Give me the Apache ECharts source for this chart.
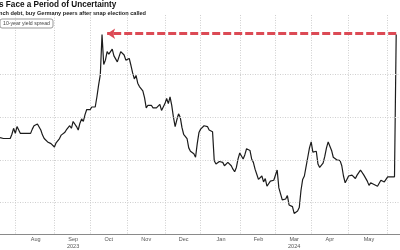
<!DOCTYPE html>
<html>
<head>
<meta charset="utf-8">
<script src="https://cdn.jsdelivr.net/npm/echarts@6/dist/echarts.min.js"></script>
<style>
  html, body { margin: 0; padding: 0; background: #fff; overflow: hidden; }
  /* chart is a bit wider than the window: the June label gets cut like in the source */
  #main { width: 420px; height: 250px; }
</style>
</head>
<body>
<div id="main"></div>
<script>
// texts, as far as they show inside the frame
var titleText = 's Face a Period of Uncertainty';
var subText = 'nch debt, buy Germany peers after snap election called';
var seriesName = '10-year yield spread';

// trading-day axis: weekdays only, runs a bit past the last print
var firstDay = '2023-07-19';
var lastDay = '2024-06-28';
var monthNames = ['Jan', 'Feb', 'Mar', 'Apr', 'May', 'Jun', 'Jul', 'Aug', 'Sep', 'Oct', 'Nov', 'Dec'];
var yearUnder = { '2023-09': '2023', '2024-03': '2024' };

// France-Germany 10y spread (bp), one reading per trading day from firstDay
var spread = [
  52.6, 52.5, 52.5, 52.4, 52.5, 52.7, 52.5, 53.0, 53.7, 53.1,
  53.9, 54.0, 53.1, 53.2, 53.1, 53.1, 53.1, 53.0, 53.1, 53.6,
  54.0, 54.2, 54.2, 54.0, 53.5, 52.9, 52.5, 52.4, 52.1, 52.0,
  51.9, 51.8, 51.5, 52.0, 52.2, 52.5, 52.9, 52.8, 53.2, 53.5,
  53.3, 54.0, 53.7, 54.5, 54.3, 53.9, 53.5, 54.3, 54.8, 54.5,
  55.3, 55.9, 56.0, 55.9, 56.2, 56.4, 56.2, 57.4, 58.8, 60.0,
  64.7, 61.2, 61.7, 62.7, 62.4, 62.4, 63.0, 62.2, 62.4, 61.5,
  61.3, 62.7, 62.7, 62.3, 61.7, 61.7, 61.9, 61.1, 60.2, 59.5,
  59.9, 59.0, 58.6, 58.4, 58.1, 57.3, 56.1, 56.4, 56.3, 56.4,
  56.1, 56.0, 56.1, 56.2, 56.5, 55.8, 56.0, 56.6, 57.2, 56.6,
  57.4, 56.4, 55.0, 53.9, 54.7, 55.4, 55.0, 53.8, 53.0, 52.9,
  52.5, 51.4, 51.0, 50.9, 50.7, 50.3, 51.9, 53.2, 53.6, 53.7,
  54.0, 54.1, 53.9, 53.5, 53.3, 53.3, 49.9, 49.5, 49.6, 49.8,
  49.8, 49.7, 49.3, 49.5, 49.7, 49.8, 49.3, 48.9, 48.6, 49.1,
  50.1, 50.8, 50.7, 50.1, 50.6, 51.3, 51.4, 51.1, 50.1, 49.7,
  48.9, 48.3, 47.7, 47.8, 48.1, 47.4, 47.8, 46.9, 46.7, 47.5,
  47.4, 47.6, 47.5, 48.8, 46.7, 46.0, 45.3, 45.1, 45.4, 45.8,
  44.7, 44.8, 44.5, 43.7, 43.6, 44.0, 44.4, 46.4, 47.7, 48.1,
  49.2, 50.3, 51.4, 52.1, 50.9, 50.7, 51.0, 49.5, 49.1, 49.2,
  49.6, 50.4, 51.4, 52.1, 51.6, 51.1, 50.3, 50.4, 50.0, 50.2,
  49.9, 49.3, 48.1, 47.3, 47.7, 48.1, 48.0, 48.2, 48.0, 47.8,
  48.2, 48.5, 48.8, 48.9, 48.2, 48.0, 47.5, 47.0, 47.3, 47.2,
  47.1, 46.9, 46.9, 47.1, 47.6, 47.6, 47.4, 47.7, 48.0, 48.0,
  48.0, 48.1, 48.0, 64.7
];

var gridValues = [45, 50, 55, 60];
var arrowLevel = 64.8;
var arrowTipDay = '2023-10-16';

// build weekday categories
var days = [];
var d = new Date(firstDay + 'T00:00:00Z');
var end = new Date(lastDay + 'T00:00:00Z');
while (d <= end) {
  var wd = d.getUTCDay();
  if (wd !== 0 && wd !== 6) days.push(d.toISOString().slice(0, 10));
  d.setUTCDate(d.getUTCDate() + 1);
}

// month starts -> gridlines, middle of each month -> label
var monthStart = {};
var starts = [];
for (var i = 1; i < days.length; i++) {
  if (days[i].slice(0, 7) !== days[i - 1].slice(0, 7)) { monthStart[i] = true; starts.push(i); }
}
var labelAt = {};
for (var k = 0; k < starts.length; k++) {
  var nxt = k + 1 < starts.length ? starts[k + 1] : days.length + 1;
  labelAt[Math.round((starts[k] + nxt) / 2)] = true;
}

var lineData = spread.map(function (v, i) { return [days[i], v]; });
var lastIdx = spread.length - 1;

var myChart = echarts.init(document.getElementById('main'));
myChart.setOption({
  animation: false,
  backgroundColor: '#fff',
  textStyle: { fontFamily: 'Liberation Sans, Arial, sans-serif' },
  title: {
    text: titleText,
    subtext: subText,
    left: -1,
    top: 0,
    padding: [1, 0, 0, 0],
    itemGap: 1,
    textStyle: { fontSize: 8.2, fontWeight: 'bold', color: '#111' },
    subtextStyle: { fontSize: 5.6, fontWeight: 'bold', color: '#222' }
  },
  legend: {
    data: [seriesName],
    left: 0,
    top: 19,
    icon: 'none',
    itemWidth: 0,
    itemHeight: 0,
    padding: [2, 3, 2, -2],
    borderColor: '#999',
    borderWidth: 1,
    borderRadius: 2,
    textStyle: { fontSize: 5.2, color: '#444', padding: 0 }
  },
  grid: { left: 0, right: 0, top: 15, bottom: 13, containLabel: false },
  xAxis: {
    type: 'category',
    data: days,
    boundaryGap: false,
    axisLine: { lineStyle: { color: '#8a8a8a', width: 1 } },
    axisTick: { show: false },
    axisLabel: {
      interval: function (index) { return !!labelAt[index]; },
      formatter: function (value) {
        var m = monthNames[parseInt(value.slice(5, 7), 10) - 1];
        var y = yearUnder[value.slice(0, 7)];
        return y ? m + '\n' + y : m;
      },
      fontSize: 5.5,
      lineHeight: 7,
      color: '#555',
      margin: 2
    },
    splitLine: {
      show: true,
      interval: function (index) { return !!monthStart[index]; },
      lineStyle: { color: '#cfcfcf', type: [1, 1.5], width: 1 }
    }
  },
  yAxis: {
    type: 'value',
    min: 41.29,
    max: 67.0,
    axisLine: { show: false },
    axisTick: { show: false },
    axisLabel: { show: false },
    splitLine: { show: false }
  },
  series: [
    {
      name: 'grid',
      type: 'line',
      data: [],
      silent: true,
      markLine: {
        silent: true,
        symbol: ['none', 'none'],
        label: { show: false },
        lineStyle: { color: '#cfcfcf', type: [1, 1.5], width: 1 },
        data: gridValues.map(function (v) { return { yAxis: v }; })
      }
    },
    {
      name: seriesName,
      type: 'line',
      data: lineData,
      showSymbol: false,
      symbol: 'none',
      z: 3,
      lineStyle: { color: '#1c1c1c', width: 1.2 },
      markLine: {
        silent: true,
        symbol: ['none', 'arrow'],
        symbolSize: [8, 8],
        label: { show: false },
        lineStyle: { color: '#dc4a55', type: [8, 3], width: 3 },
        data: [[
          { coord: [days[lastIdx], arrowLevel] },
          { coord: [arrowTipDay, arrowLevel] }
        ]]
      }
    }
  ]
});
</script>
</body>
</html>
